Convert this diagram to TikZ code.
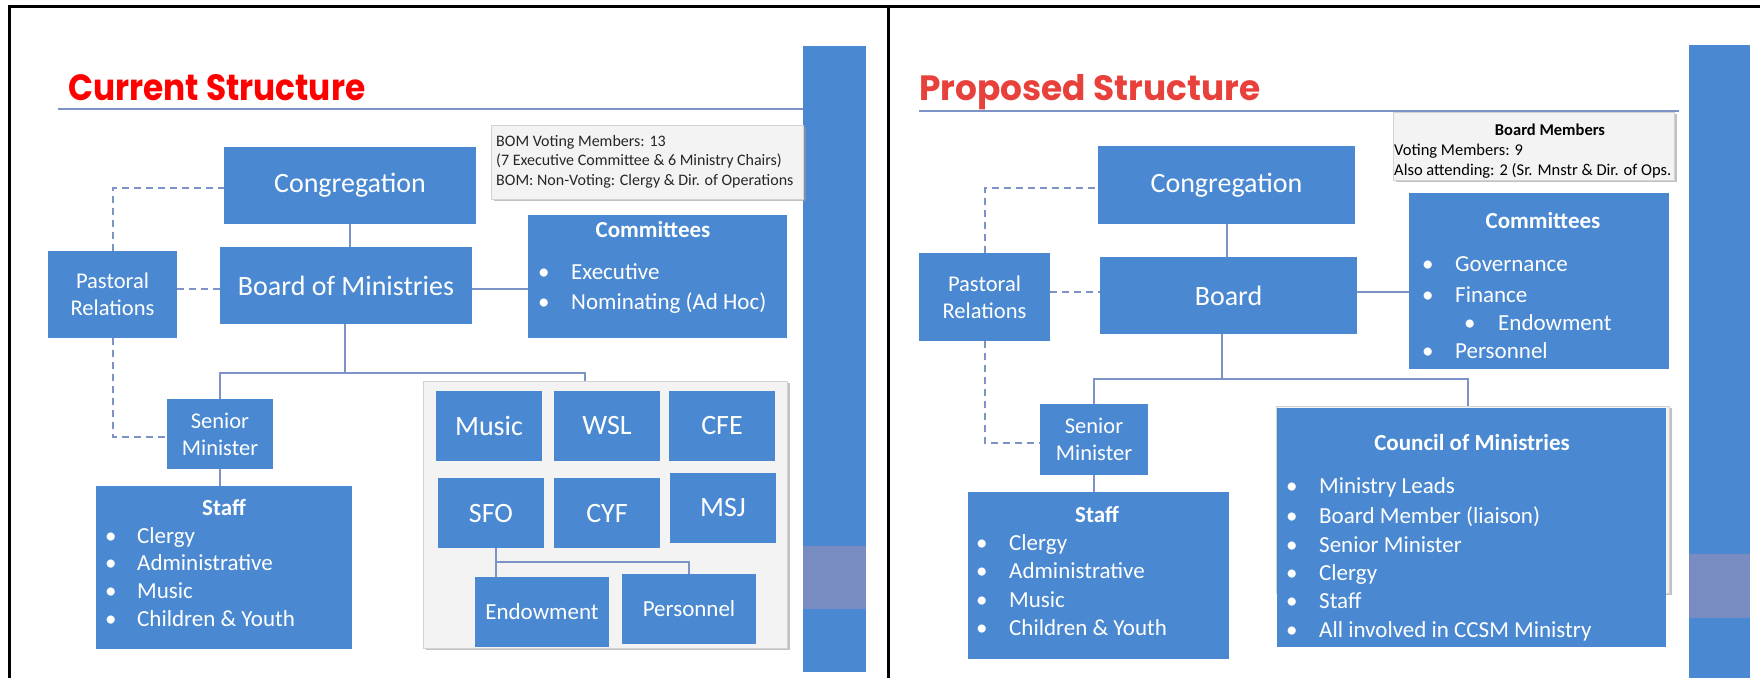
\documentclass[tikz,border=0pt]{standalone}
\usepackage{fontspec}
\usepackage{graphicx}
\usetikzlibrary{shadows}
\newfontfamily\cb{Carlito}
\newfontfamily\pop{Poppins}
\definecolor{boxblue}{HTML}{4A89D1}
\definecolor{linec}{HTML}{7D93C8}
\definecolor{bandc}{HTML}{788CC2}
\definecolor{panelg}{HTML}{F3F3F3}
\definecolor{titlered}{HTML}{FF0000}
\definecolor{titlered2}{HTML}{E8413B}
\begin{document}
\begin{tikzpicture}[x=1pt,y=-1pt,
  box/.style={fill=boxblue, inner sep=0pt, text=white, align=center},
  big/.style={font=\cb\fontsize{28}{33}\selectfont},
  mid/.style={font=\cb\fontsize{22.5}{27}\selectfont},
  conn/.style={draw=linec, line width=2pt},
  dconn/.style={draw=linec, line width=2pt, dash pattern=on 7pt off 5pt},
  item/.style={anchor=base west, inner sep=0pt, text=white, font=\cb\fontsize{23}{27}\selectfont},
  head/.style={anchor=base, inner sep=0pt, text=white, font=\cb\bfseries\fontsize{23}{27}\selectfont},
  note/.style={anchor=base west, inner sep=0pt, text=black!85, font=\cb\fontsize{16}{19}\selectfont},
  graybox/.style={fill=panelg, draw=gray!35, line width=0.6pt, inner sep=0pt,
     drop shadow={shadow xshift=2.5pt, shadow yshift=-2pt, opacity=0.6, fill=gray!80}},
  frame/.style={draw=black, line width=3pt}
]
\useasboundingbox (0,0) rectangle (1760,678);
\fill[white] (0,0) rectangle (1760,678);

% frame
\draw[frame] (9.5,6) -- (9.5,678);
\draw[frame] (8,6) -- (1760,6);
\draw[frame] (888,6) -- (888,678);

% side bars
\fill[boxblue] (803,46) rectangle (866,672);
\fill[bandc] (803,546) rectangle (866,609);
\fill[boxblue] (1689,45) rectangle (1750,678);
\fill[bandc] (1689,554) rectangle (1750,618);

% ================= LEFT: Current Structure =================
\node[anchor=base west, inner sep=0pt, text=titlered, font=\pop\bfseries] (t1) at (68,100)
  {\resizebox{297pt}{26pt}{Current Structure}};
\draw[draw=linec, line width=2pt] (58,109) -- (803,109);

\node[graybox, minimum width=312pt, minimum height=74pt] (bomnote) at (647,162) {};
\node[note] (bn1) at (496,146) {BOM Voting Members: 13};
\node[note] (bn2) at (496,165.5) {(7 Executive Committee \& 6 Ministry Chairs)};
\node[note] (bn3) at (496,185) {BOM: Non-Voting: Clergy \& Dir. of Operations};

\node[box, big, minimum width=252pt, minimum height=77pt] (cong) at (350,185.5) {Congregation};
\node[box, big, minimum width=252pt, minimum height=77pt] (bom) at (346,285.5) {Board of Ministries};
\node[box, mid, minimum width=129pt, minimum height=87pt] (past) at (112.5,294.5) {Pastoral\\Relations};
\node[box, mid, minimum width=106pt, minimum height=70pt] (sm) at (220,434) {Senior\\Minister};
\node[box, minimum width=256pt, minimum height=163pt] (staff) at (224,567.5) {};
\node[box, minimum width=259pt, minimum height=123pt] (comm) at (657.5,276.5) {};

% ministries panel
\node[graybox, minimum width=364pt, minimum height=267pt] (mpanel) at (605,514.5) {};
\node[box, big, minimum width=106pt, minimum height=70pt] (music) at (489,426) {Music};
\node[box, big, minimum width=106pt, minimum height=70pt] (wsl) at (607,426) {WSL};
\node[box, big, minimum width=106pt, minimum height=70pt] (cfe) at (722,426) {CFE};
\node[box, big, minimum width=106pt, minimum height=70pt] (sfo) at (491,513) {SFO};
\node[box, big, minimum width=106pt, minimum height=70pt] (cyf) at (607,513) {CYF};
\node[box, big, minimum width=106pt, minimum height=70pt] (msj) at (723,508) {MSJ};
\node[box, font=\cb\fontsize{23}{27}\selectfont, minimum width=134pt, minimum height=70pt] (endow) at (542,612) {Endowment};
\node[box, font=\cb\fontsize{23}{27}\selectfont, minimum width=134pt, minimum height=70pt] (pers) at (689,609) {Personnel};

% staff text
\node[head] (sth) at (224,515) {Staff};
\node[item] (sb1) at (105,543) {•};   \node[item] (st1) at (137,543) {Clergy};
\node[item] (sb2) at (105,570.5) {•}; \node[item] (st2) at (137,570.5) {Administrative};
\node[item] (sb3) at (105,598) {•};   \node[item] (st3) at (137,598) {Music};
\node[item] (sb4) at (105,626) {•};   \node[item] (st4) at (137,626) {Children \& Youth};

% committees text
\node[head] (cmh) at (653,237) {Committees};
\node[item] (cb1) at (538,279) {•}; \node[item] (ct1) at (571,279) {Executive};
\node[item] (cb2) at (538,309) {•}; \node[item] (ct2) at (571,309) {Nominating (Ad Hoc)};

% connectors
\coordinate (lj) at (345,373);
\coordinate (mtop) at ([xshift=-20pt]mpanel.north);
\coordinate (sj) at (496,562);
\draw[conn] (cong.south) -- (cong.south |- bom.north);
\draw[dconn] (past.north) |- ([yshift=-2.5pt]cong.west);
\draw[dconn] ([yshift=-3.5pt]bom.west -| past.east) -- ([yshift=-3.5pt]bom.west);
\draw[dconn] (past.south) |- ([yshift=-3pt]sm.west);
\draw[conn] (bom.south -| lj) -- (lj);
\draw[conn] (sm.north) |- (lj) -| (mtop);
\draw[conn] (sm.south) -- (sm.south |- staff.north);
\draw[conn] ([yshift=-3.5pt]bom.east) -- ([yshift=-3.5pt]bom.east -| comm.west);
\draw[conn] (sj |- sfo.south) -- (sj |- endow.north);
\draw[conn] (sj) -| (pers.north);

% ================= RIGHT: Proposed Structure =================
\node[anchor=base west, inner sep=0pt, text=titlered2, font=\pop\bfseries] (t2) at (919,100)
  {\resizebox{341pt}{26pt}{Proposed Structure}};

\node[graybox, minimum width=281pt, minimum height=68pt] (bm) at (1533.5,146) {};
\draw[draw=linec, line width=2pt] (919,110.5) -- (1679,110.5);
\node[anchor=base, inner sep=0pt, text=black, font=\cb\bfseries\fontsize{16.5}{19}\selectfont] (bmh) at (1550,135) {Board Members};
\node[note, text=black, font=\cb\fontsize{16.5}{19}\selectfont] (bm1) at (1394,155) {Voting Members: 9};
\node[note, text=black, font=\cb\fontsize{16.5}{19}\selectfont] (bm2) at (1394,175) {Also attending: 2 (Sr. Mnstr \& Dir. of Ops.};

\node[box, big, minimum width=257pt, minimum height=78pt] (cong2) at (1226.5,185) {Congregation};
\node[box, big, minimum width=257pt, minimum height=77pt] (board2) at (1228.5,295.5) {Board};
\node[box, mid, minimum width=131pt, minimum height=88pt] (past2) at (984.5,297) {Pastoral\\Relations};
\node[box, mid, minimum width=108pt, minimum height=71pt] (sm2) at (1094,439.5) {Senior\\Minister};
\node[box, minimum width=261pt, minimum height=167pt] (staff2) at (1098.5,575.5) {};
\node[box, minimum width=260pt, minimum height=176pt] (comm2) at (1539,281) {};
\node[graybox, minimum width=393pt, minimum height=187pt] (councilbg) at (1472.5,499.5) {};
\node[box, minimum width=389pt, minimum height=239pt] (council) at (1471.5,527.5) {};

% staff2 text
\node[head] (s2h) at (1097,522) {Staff};
\node[item] (s2b1) at (976,550) {•}; \node[item] (s2t1) at (1009,550) {Clergy};
\node[item] (s2b2) at (976,578) {•}; \node[item] (s2t2) at (1009,578) {Administrative};
\node[item] (s2b3) at (976,607) {•}; \node[item] (s2t3) at (1009,607) {Music};
\node[item] (s2b4) at (976,635) {•}; \node[item] (s2t4) at (1009,635) {Children \& Youth};

% committees2 text
\node[head] (c2h) at (1543,228) {Committees};
\node[item] (c2b1) at (1422,271) {•}; \node[item] (c2t1) at (1455,271) {Governance};
\node[item] (c2b2) at (1422,302) {•}; \node[item] (c2t2) at (1455,302) {Finance};
\node[item] (c2b3) at (1464,330) {•}; \node[item] (c2t3) at (1498,330) {Endowment};
\node[item] (c2b4) at (1422,358) {•}; \node[item] (c2t4) at (1455,358) {Personnel};

% council text
\node[head] (coh) at (1472,450) {Council of Ministries};
\node[item] (cob1) at (1286,493) {•}; \node[item] (cot1) at (1319,493) {Ministry Leads};
\node[item] (cob2) at (1286,523) {•}; \node[item] (cot2) at (1319,523) {Board Member (liaison)};
\node[item] (cob3) at (1286,552) {•}; \node[item] (cot3) at (1319,552) {Senior Minister};
\node[item] (cob4) at (1286,580) {•}; \node[item] (cot4) at (1319,580) {Clergy};
\node[item] (cob5) at (1286,608) {•}; \node[item] (cot5) at (1319,608) {Staff};
\node[item] (cob6) at (1286,637) {•}; \node[item] (cot6) at (1319,637) {All involved in CCSM Ministry};

% connectors right
\coordinate (rj) at (1222,379);
\draw[conn] (cong2.south) -- (cong2.south |- board2.north);
\draw[dconn] (past2.north) |- ([yshift=-3pt]cong2.west);
\draw[dconn] ([yshift=3.5pt]board2.west -| past2.east) -- ([yshift=3.5pt]board2.west);
\draw[dconn] (past2.south) |- ([yshift=-3.5pt]sm2.west);
\draw[conn] (board2.south -| rj) -- (rj);
\draw[conn] (sm2.north) |- (rj) -| ([xshift=-4.5pt]councilbg.north);
\draw[conn] (sm2.south) -- (sm2.south |- staff2.north);
\draw[conn] ([yshift=3.5pt]board2.east) -- ([yshift=3.5pt]board2.east -| comm2.west);
\end{tikzpicture}
\end{document}
